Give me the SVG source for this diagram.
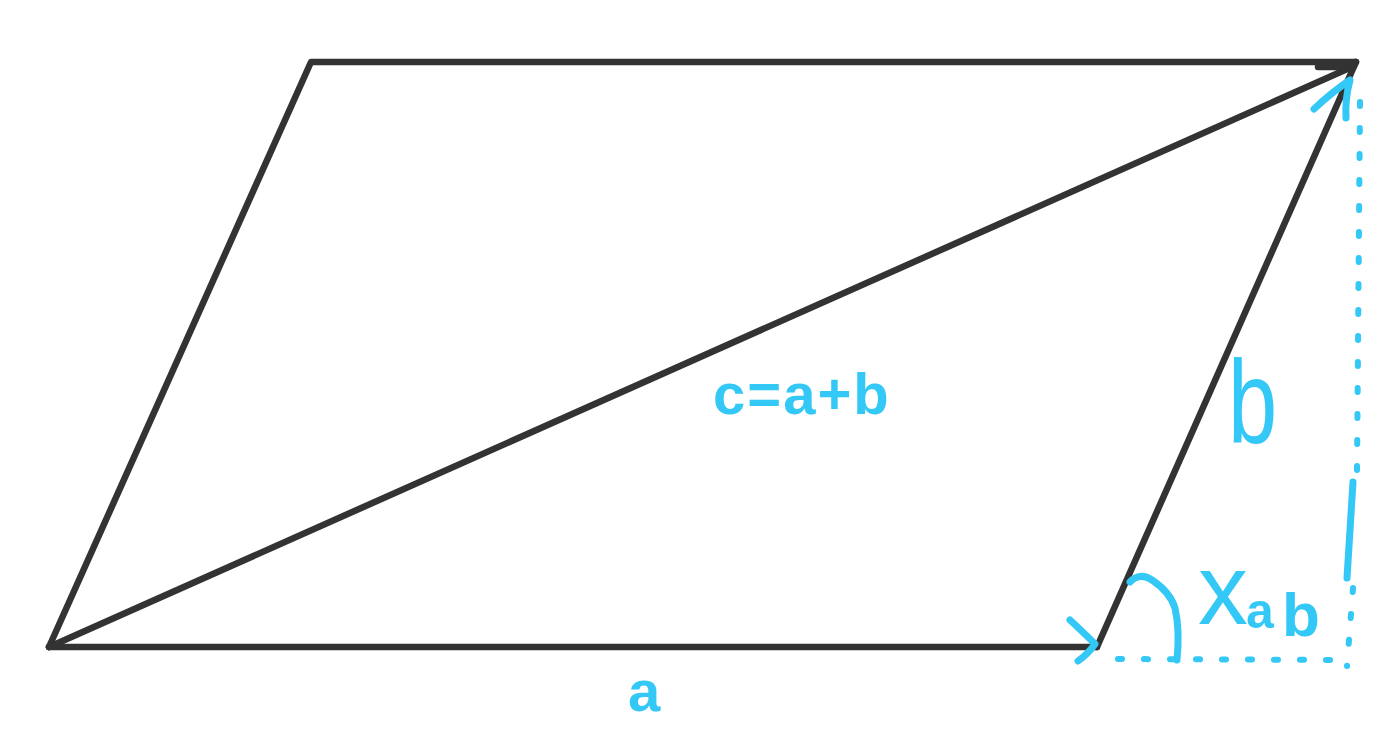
<svg xmlns="http://www.w3.org/2000/svg" width="1380" height="747" viewBox="0 0 1380 747">
<style>
.edge{fill:none;stroke:#333333;stroke-width:6.5;stroke-linecap:round;stroke-linejoin:round}
.blue{fill:none;stroke:#33c8f6;stroke-width:7;stroke-linecap:round;stroke-linejoin:round}
.dash{fill:none;stroke:#33c8f6;stroke-width:6;stroke-linecap:round;stroke-dasharray:4 22}
.lbl{fill:#33c8f6;font-family:"Liberation Sans","DejaVu Sans",sans-serif}
</style>
<rect width="1380" height="747" fill="#ffffff"/>
<g id="connectors">
<g id="parallelogram">
<path class="edge" d="M49,647 L311,62 L1356,62"/>
<path class="edge" d="M49,647 L1097,647"/>
<path class="edge" d="M1097,647 L1356,62"/>
<path class="edge" d="M49,647 L1354,66"/>
<path class="edge" d="M1318,67 L1352,67"/>
</g>
<g id="arrowheads">
<path class="blue" d="M1070,620 Q1084,633 1095,644 Q1088,654 1078,661"/>
<path class="blue" d="M1314,109 Q1332,92 1350,80 Q1345,98 1346,118"/>
</g>
<g id="guides">
<path class="dash" d="M1360,102 L1357,470"/>
<path class="blue" d="M1353,482 L1347,578"/>
<path class="dash" d="M1353,588 L1347,666"/>
<path class="dash" d="M1118,659 L1340,660"/>
<path class="blue" d="M1130,582 Q1140,572 1152,580 Q1170,592 1175,608 Q1180,630 1177,660"/>
</g>
</g>
<g id="label-c"><text class="lbl" x="713" y="414" font-size="58" font-weight="bold" letter-spacing="2">c=a+b</text></g>
<g id="label-b"><text class="lbl" x="1228" y="443" font-size="118" transform="translate(1228,443) scale(0.75,1) translate(-1228,-443)">b</text></g>
<g id="label-a"><text class="lbl" x="628" y="711" font-size="58" font-weight="bold">a</text></g>
<g id="label-xab">
<text class="lbl" x="1198" y="624" font-size="100">x</text>
<text class="lbl" x="1246" y="628" font-size="50" font-weight="bold">a</text>
<text class="lbl" x="1282" y="636" font-size="62" font-weight="bold">b</text>
</g>
</svg>
